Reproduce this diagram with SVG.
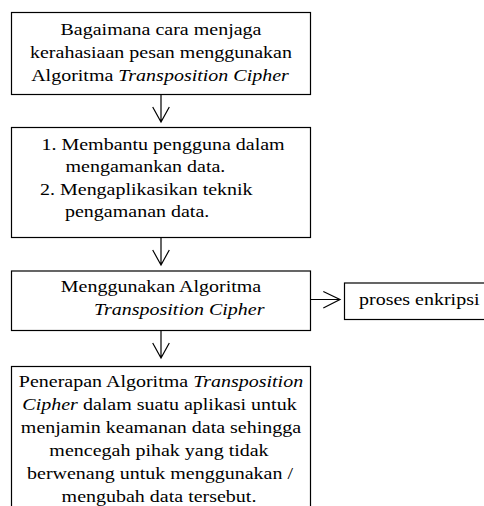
<svg xmlns="http://www.w3.org/2000/svg" width="484" height="506" viewBox="0 0 484 506">
<style>
.box{fill:#fff;stroke:#000;stroke-width:1.2}
.t{font-family:"Liberation Serif","Times New Roman",serif;font-size:20px;fill:#000}
.c{text-anchor:middle}
.i{font-style:italic}
.con{fill:none;stroke:#000;stroke-width:1.2}
</style>
<rect width="484" height="506" fill="#fff"/>
<g id="connectors">
<path class="con" d="M161,94.5V122M152.7,107L161,122L169.3,107"/>
<path class="con" d="M161,237.5V265M152.7,250L161,265L169.3,250"/>
<path class="con" d="M161,330.5V358M152.7,343L161,358L169.3,343"/>
<path class="con" d="M310.5,299.5H340M323.3,291.5L340,299.5L323.3,308"/>
</g>
<g id="n1">
<rect class="box" x="11.5" y="12.5" width="299" height="82"/>
<text class="t c" x="161" y="0" transform="translate(0,34.5) scale(1,0.88)">Bagaimana cara menjaga</text>
<text class="t c" x="161" y="0" transform="translate(0,57.5) scale(1,0.88)">kerahasiaan pesan menggunakan</text>
<text class="t c" x="160" y="0" transform="translate(0,80.5) scale(1,0.88)">Algoritma <tspan class="i">Transposition Cipher</tspan></text>
</g>
<g id="n2">
<rect class="box" x="11.5" y="127.5" width="299" height="110"/>
<text class="t" x="41.5" y="0" transform="translate(0,149.5) scale(1,0.88)">1. Membantu pengguna dalam</text>
<text class="t" x="65.5" y="0" transform="translate(0,172) scale(1,0.88)">mengamankan data.</text>
<text class="t" x="40" y="0" transform="translate(0,194.5) scale(1,0.88)">2. Mengaplikasikan teknik</text>
<text class="t" x="65" y="0" transform="translate(0,217) scale(1,0.88)">pengamanan data.</text>
</g>
<g id="n3">
<rect class="box" x="11.5" y="271" width="299" height="59.5"/>
<text class="t c" x="161" y="0" transform="translate(0,292) scale(1,0.88)">Menggunakan Algoritma</text>
<text class="t i" x="94" y="0" transform="translate(0,315) scale(1,0.88)">Transposition Cipher</text>
</g>
<g id="n4">
<rect class="box" x="344.5" y="283" width="142" height="36.5"/>
<text class="t" x="359" y="0" transform="translate(0,305) scale(1,0.88)">proses enkripsi</text>
</g>
<g id="n5">
<rect class="box" x="11.5" y="366.5" width="299" height="150"/>
<text class="t c" x="161" y="0" transform="translate(0,386.5) scale(1,0.88)">Penerapan Algoritma <tspan class="i">Transposition</tspan></text>
<text class="t c" x="159.5" y="0" transform="translate(0,409.5) scale(1,0.88)"><tspan class="i">Cipher</tspan> dalam suatu aplikasi untuk</text>
<text class="t c" x="161" y="0" transform="translate(0,432.5) scale(1,0.88)">menjamin keamanan data sehingga</text>
<text class="t c" x="159" y="0" transform="translate(0,455.5) scale(1,0.88)">mencegah pihak yang tidak</text>
<text class="t c" x="160" y="0" transform="translate(0,478.5) scale(1,0.88)">berwenang untuk menggunakan /</text>
<text class="t c" x="159" y="0" transform="translate(0,501.5) scale(1,0.88)">mengubah data tersebut.</text>
</g>
</svg>
